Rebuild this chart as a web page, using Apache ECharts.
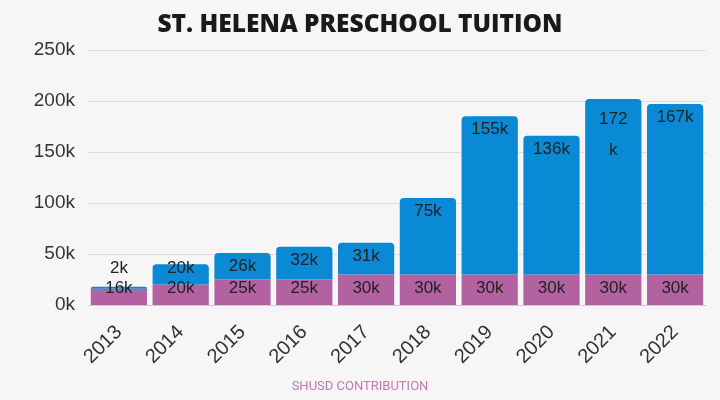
<!DOCTYPE html>
<html><head><meta charset="utf-8">
<script src="https://cdn.jsdelivr.net/npm/echarts@6/dist/echarts.min.js"></script>
<style>html,body{margin:0;padding:0;background:#f6f6f6;}#c{width:720px;height:400px;}</style>
</head><body><div id="c"></div>
<script>
const years = ['2013','2014','2015','2016','2017','2018','2019','2020','2021','2022'];
const shusd = [16, 20, 25, 25, 30, 30, 30, 30, 30, 30];
const tuition = [2, 20, 26, 32, 31, 75, 155, 136, 172, 167];
const yTicks = [0, 50, 100, 150, 200, 250];

const FONT = '"Liberation Sans", Arial, sans-serif';
const chart = echarts.init(document.getElementById('c'));
const tuitionData = tuition.map((v, i) => {
  const item = { value: v * 1000 };
  if (v < 5) item.label = { position: 'top', distance: 10 };
  else if (v < 25) item.label = { position: 'insideTop', offset: [0, -9] };
  if (v === 172) item.label = { formatter: '172\nk', lineHeight: 31 };
  return item;
});
chart.setOption({
  backgroundColor: '#f6f6f6',
  title: {
    text: 'ST. HELENA PRESCHOOL TUITION', left: 'center', top: 8,
    textStyle: { fontFamily: '"Open Sans"', fontWeight: 800, fontSize: 24.5, color: '#1a1a1a' }
  },
  graphic: [{
    type: 'text', left: 'center', top: 380,
    style: { text: 'SHUSD CONTRIBUTION', fill: '#c07cb2', font: '13px "Roboto"' }
  }],
  grid: { left: 88, right: 14, top: 50, bottom: 95 },
  xAxis: {
    type: 'category', data: years,
    axisLine: { lineStyle: { color: '#cccccc' } },
    axisTick: { show: false },
    axisLabel: { rotate: 45, fontSize: 20, color: '#333', fontFamily: FONT, margin: 24 }
  },
  yAxis: {
    type: 'value', min: 0, max: 250000, interval: 50000,
    axisLabel: { fontSize: 19, color: '#333', fontFamily: FONT, margin: 13,
      formatter: v => (v / 1000) + 'k' },
    splitLine: { lineStyle: { color: '#dddddd' } }
  },
  series: [
    {
      name: 'SHUSD CONTRIBUTION', type: 'bar', stack: 't', barCategoryGap: '9%',
      data: shusd.map(v => v * 1000),
      itemStyle: { color: '#b262a0' },
      label: { show: true, position: 'insideBottom', distance: 8, fontSize: 17,
        color: '#222', fontFamily: FONT, formatter: p => (p.value / 1000) + 'k' }
    },
    {
      name: 'Tuition', type: 'bar', stack: 't',
      data: tuitionData,
      itemStyle: { color: '#0a8ad4', borderRadius: [4, 4, 0, 0] },
      label: { show: true, position: 'insideTop', distance: 5, fontSize: 17,
        color: '#222', fontFamily: FONT, formatter: p => (p.value / 1000) + 'k' }
    }
  ]
});
</script></body></html>
